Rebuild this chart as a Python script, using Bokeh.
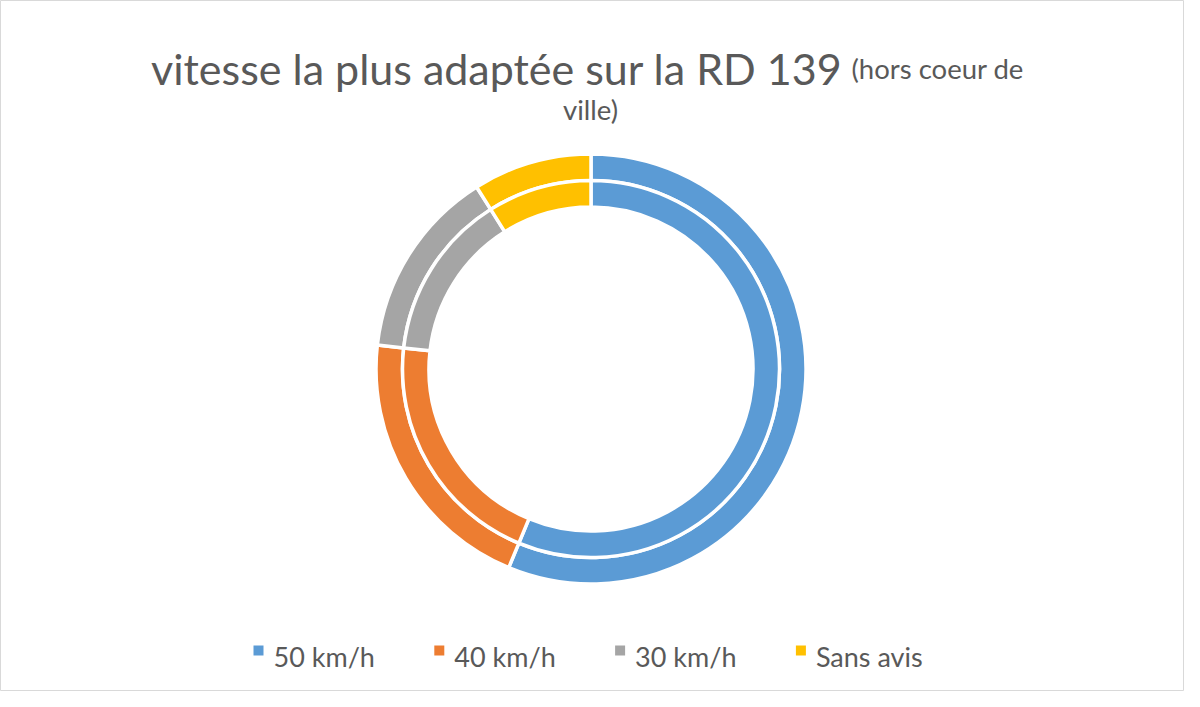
import math
from bokeh.plotting import figure
from bokeh.models import Range1d, ColumnDataSource
from bokeh.core.properties import value
from bokeh.embed import file_html
from bokeh.resources import INLINE

# ---- data ----
categories = ["50 km/h", "40 km/h", "30 km/h", "Sans avis"]
outer_values = [63, 23, 16, 10]
inner_values = [63, 23, 16, 10]
colors = ["#5B9BD5", "#ED7D31", "#A5A5A5", "#FFC000"]
title_main = "vitesse la plus adaptée sur la RD 139"
title_sub1 = "(hors coeur de"
title_sub2 = "ville)"

W, H = 1184, 691
p = figure(width=W, height=H, output_backend="svg", toolbar_location=None,
           x_range=Range1d(8, 8 + W), y_range=Range1d(8, 8 + H),
           min_border=0, min_border_left=0, min_border_right=0,
           min_border_top=0, min_border_bottom=0)
p.axis.visible = False
p.grid.visible = False
p.outline_line_color = "#D9D9D9"
p.outline_line_width = 1
p.background_fill_color = "white"
p.border_fill_color = "white"

def ang(vals):
    tot = float(sum(vals))
    starts, ends = [], []
    c = 0.0
    for v in vals:
        c0 = c
        c += v / tot
        starts.append(math.pi / 2 - 2 * math.pi * c)
        ends.append(math.pi / 2 - 2 * math.pi * c0)
    return starts, ends

cx, cy = 598.5, 707 - 376.5
for vals, r_in, r_out in [(outer_values, 188.5, 215.0), (inner_values, 162.0, 188.5)]:
    s, e = ang(vals)
    src = ColumnDataSource(dict(start=s, end=e, color=colors, cat=categories))
    p.annular_wedge(x=cx, y=cy, inner_radius=r_in, outer_radius=r_out,
                    start_angle="start", end_angle="end", source=src,
                    fill_color="color", line_color="white", line_width=3.5)

# title
TC = "#595959"
p.text(x=[850], y=[707 - 76], text=[title_main], text_font=value("Lato"),
       text_font_size="43px", text_color=TC, text_align="right",
       text_baseline="alphabetic")
p.text(x=[859], y=[707 - 76], text=[title_sub1], text_font=value("Lato"),
       text_font_size="27.5px", text_color=TC, text_align="left",
       text_baseline="alphabetic")
p.text(x=[598], y=[707 - 117], text=[title_sub2], text_font=value("Lato"),
       text_font_size="27.5px", text_color=TC, text_align="center",
       text_baseline="alphabetic")

# legend
lx = [266 + i * 180.8 for i in range(len(categories))]
ly = [707 - 658] * len(categories)
p.rect(x=lx, y=ly, width=10, height=10, fill_color=colors, line_color=None)
p.text(x=[v + 15 for v in lx], y=[707 - 664] * len(categories), text=categories,
       text_font=value("Lato"), text_font_size="27px", text_color=TC,
       text_align="left", text_baseline="alphabetic")

open("out.html", "w").write(file_html(p, INLINE))
